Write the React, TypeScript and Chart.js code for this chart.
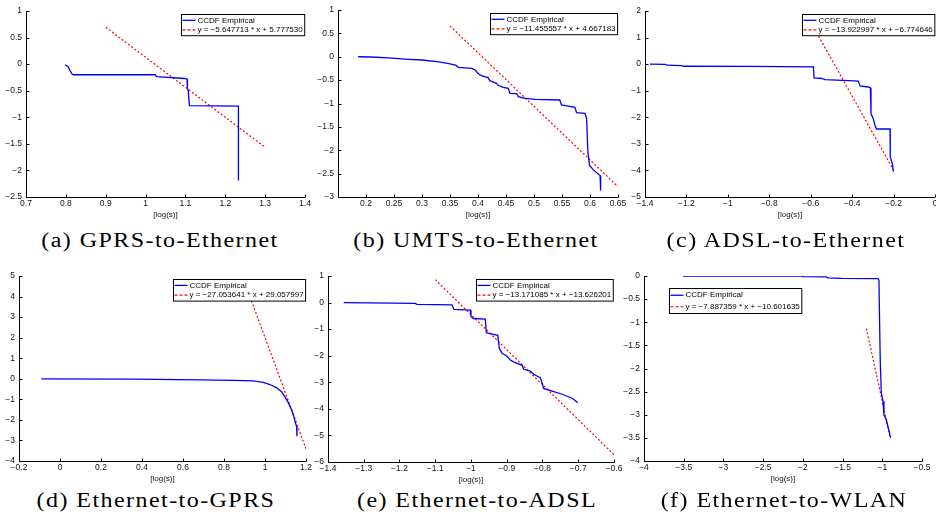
import React, { useEffect, useRef } from 'react';
import { Chart, registerables } from 'chart.js';

Chart.register(...registerables);

// ---------- data ----------
// (a) GPRS-to-Ethernet
const aCcdfX = [0.798, 0.802, 0.806, 0.810, 0.815, 0.819, 1.024, 1.028, 1.099, 1.104, 1.105, 1.107, 1.110, 1.233, 1.233];
const aCcdfY = [-0.01, -0.03, -0.05, -0.115, -0.18, -0.2, -0.2, -0.234, -0.27, -0.28, -0.46, -0.5, -0.78, -0.79, -2.19];
const aFit = [-5.647713, 5.77753];
const aFitX = [0.9, 1.3];
const aXTicks = [0.7, 0.8, 0.9, 1, 1.1, 1.2, 1.3, 1.4];
const aYTicks = [-2.5, -2, -1.5, -1, -0.5, 0, 0.5, 1];

// (b) UMTS-to-Ethernet
const bCcdfX = [0.186, 0.210, 0.246, 0.276, 0.300, 0.330, 0.350, 0.360, 0.365, 0.389, 0.395, 0.401, 0.407, 0.418, 0.421, 0.433, 0.436, 0.445, 0.454, 0.457, 0.469, 0.472, 0.484, 0.502, 0.546, 0.549, 0.573, 0.576, 0.591, 0.594, 0.596, 0.598, 0.599, 0.606, 0.618, 0.619];
const bCcdfY = [0, -0.005, -0.03, -0.055, -0.07, -0.11, -0.15, -0.18, -0.226, -0.248, -0.283, -0.369, -0.41, -0.447, -0.512, -0.569, -0.611, -0.654, -0.675, -0.782, -0.79, -0.854, -0.89, -0.911, -0.925, -1.032, -1.082, -1.196, -1.21, -1.32, -1.995, -2.21, -2.32, -2.42, -2.54, -2.86];
const bFit = [-11.455557, 4.667183];
const bFitX = [0.35, 0.65];
const bXMin = 0.15;
const bXTicks = [0.2, 0.25, 0.3, 0.35, 0.4, 0.45, 0.5, 0.55, 0.6, 0.65];
const bYTicks = [-3, -2.5, -2, -1.5, -1, -0.5, 0, 0.5, 1];

// (c) ADSL-to-Ethernet
const cCcdfX = [-1.376, -1.303, -1.295, -1.223, -1.215, -0.9, -0.587, -0.584, -0.547, -0.531, -0.418, -0.37, -0.362, -0.322, -0.312, -0.309, -0.298, -0.29, -0.282, -0.217, -0.216, -0.206, -0.201];
const cCcdfY = [0, -0.005, -0.04, -0.055, -0.08, -0.085, -0.1, -0.52, -0.54, -0.58, -0.62, -0.64, -0.82, -0.86, -0.89, -1.86, -2.05, -2.3, -2.44, -2.44, -3.49, -3.74, -4.05];
const cFit = [-13.922997, -6.774646];
const cFitX = [-0.6, -0.2];
const cXTicks = [-1.4, -1.2, -1, -0.8, -0.6, -0.4, -0.2, 0];
const cYTicks = [-5, -4, -3, -2, -1, 0, 1, 2];

// (d) Ethernet-to-GPRS
const dCcdfX = [-0.091, 0.357, 0.682, 0.845, 0.943, 0.992, 1.024, 1.057, 1.081, 1.097, 1.113, 1.13, 1.141, 1.149, 1.154, 1.156];
const dCcdfY = [0, -0.02, -0.05, -0.08, -0.1, -0.18, -0.28, -0.44, -0.63, -0.88, -1.15, -1.52, -1.85, -2.17, -2.33, -2.79];
const dFit = [-27.053641, 29.057997];
const dFitX = [0.9, 1.2];
const dXTicks = [-0.2, 0, 0.2, 0.4, 0.6, 0.8, 1, 1.2];
const dYTicks = [-4, -3, -2, -1, 0, 1, 2, 3, 4, 5];

// (e) Ethernet-to-ADSL
const eCcdfX = [-1.356, -1.221, -1.156, -1.151, -1.053, -1.048, -1.002, -1.0, -0.993, -0.96, -0.957, -0.953, -0.925, -0.921, -0.913, -0.9, -0.89, -0.88, -0.857, -0.853, -0.834, -0.825, -0.806, -0.8, -0.797, -0.773, -0.745, -0.717, -0.701];
const eCcdfY = [0, -0.02, -0.03, -0.07, -0.09, -0.26, -0.28, -0.53, -0.6, -0.62, -1.13, -1.15, -1.23, -1.72, -1.91, -2.01, -2.16, -2.24, -2.36, -2.5, -2.58, -2.7, -2.83, -3.07, -3.23, -3.33, -3.45, -3.6, -3.77];
const eFit = [-13.171085, -13.626201];
const eFitX = [-1.1, -0.6];
const eXTicks = [-1.4, -1.3, -1.2, -1.1, -1, -0.9, -0.8, -0.7, -0.6];
const eYTicks = [-6, -5, -4, -3, -2, -1, 0, 1];

// (f) Ethernet-to-WLAN
const fCcdfX = [-3.509, -2.019, -1.999, -1.705, -1.684, -1.516, -1.054, -1.042, -1.033, -1.025, -1.012, -0.991, -0.979, -0.949, -0.895];
const fCcdfY = [0, 0, -0.014, -0.02, -0.04, -0.05, -0.058, -0.09, -1.09, -1.88, -2.53, -2.71, -3.0, -3.11, -3.5];
const fFit = [-7.887359, -10.601635];
const fFitX = [-1.2, -0.9];
const fXTicks = [-4, -3.5, -3, -2.5, -2, -1.5, -1, -0.5];
const fYTicks = [-4, -3.5, -3, -2.5, -2, -1.5, -1, -0.5, 0];

const captions = [
  '(a) GPRS-to-Ethernet',
  '(b) UMTS-to-Ethernet',
  '(c) ADSL-to-Ethernet',
  '(d) Ethernet-to-GPRS',
  '(e) Ethernet-to-ADSL',
  '(f) Ethernet-to-WLAN',
];
const seriesLabel = 'CCDF Empirical';
const axisTitle = '[log(s)]';

// ---------- layout / style ----------
const SANS = '"Liberation Sans", Arial, Helvetica, sans-serif';
const SERIF = '"Liberation Serif", "Times New Roman", serif';

type Panel = {
  xs: number[]; ys: number[]; fit: number[]; fitX: number[];
  xMin?: number; xTicks: number[]; yTicks: number[];
  area: { l: number; t: number; r: number; b: number };
  legend: { pos: 'ne' | 'free'; dx?: number; dy?: number; rowH: number };
  caption: string; capX: number; capY: number;
};

const panels: Panel[] = [
  { xs: aCcdfX, ys: aCcdfY, fit: aFit, fitX: aFitX, xTicks: aXTicks, yTicks: aYTicks,
    area: { l: 26, t: 11, r: 305, b: 197 }, legend: { pos: 'ne', rowH: 9.6 }, caption: captions[0], capX: 160, capY: 230 },
  { xs: bCcdfX, ys: bCcdfY, fit: bFit, fitX: bFitX, xMin: bXMin, xTicks: bXTicks, yTicks: bYTicks,
    area: { l: 338, t: 10, r: 618, b: 197 }, legend: { pos: 'ne', rowH: 9.6 }, caption: captions[1], capX: 476, capY: 230 },
  { xs: cCcdfX, ys: cCcdfY, fit: cFit, fitX: cFitX, xTicks: cXTicks, yTicks: cYTicks,
    area: { l: 645, t: 11, r: 935, b: 197 }, legend: { pos: 'ne', rowH: 9.6 }, caption: captions[2], capX: 786, capY: 230 },
  { xs: dCcdfX, ys: dCcdfY, fit: dFit, fitX: dFitX, xTicks: dXTicks, yTicks: dYTicks,
    area: { l: 19, t: 276, r: 306, b: 461 }, legend: { pos: 'ne', rowH: 9.8 }, caption: captions[3], capX: 156, capY: 490 },
  { xs: eCcdfX, ys: eCcdfY, fit: eFit, fitX: eFitX, xTicks: eXTicks, yTicks: eYTicks,
    area: { l: 328, t: 276, r: 614, b: 462 }, legend: { pos: 'ne', rowH: 9.8 }, caption: captions[4], capX: 477, capY: 490 },
  { xs: fCcdfX, ys: fCcdfY, fit: fFit, fitX: fFitX, xTicks: fXTicks, yTicks: fYTicks,
    area: { l: 644, t: 276, r: 922, b: 461 }, legend: { pos: 'free', dx: 25, dy: 12, rowH: 11.5 }, caption: captions[5], capX: 784, capY: 490 },
];

const PAD_L = 30, PAD_T = 10, PAD_R = 10, PAD_B = 26;

function fmtTick(v: number): string {
  const s = String(Math.round(v * 1000) / 1000);
  return s.replace('-', '\u2212');
}
function fmtCoef(v: number): string {
  return v.toFixed(6).replace('-', '\u2212');
}

function PanelChart({ p }: { p: Panel }) {
  const ref = useRef<HTMLCanvasElement>(null);
  const w = p.area.r - p.area.l + PAD_L + PAD_R;
  const h = p.area.b - p.area.t + PAD_T + PAD_B;

  useEffect(() => {
    if (!ref.current) return;
    const [m, c] = p.fit;
    const overlay = {
      id: 'matlabAxes',
      afterDatasetsDraw(chart: any) {
        const { ctx, chartArea } = chart;
        const { left, right, top, bottom } = chartArea;
        const xs = chart.scales.x, ys = chart.scales.y;
        const L = Math.round(left) + 0.5, B = Math.round(bottom) + 0.5;
        ctx.save();
        ctx.strokeStyle = '#000';
        ctx.lineWidth = 1;
        ctx.setLineDash([]);
        ctx.beginPath();
        ctx.moveTo(L, top);
        ctx.lineTo(L, B);
        ctx.lineTo(right, B);
        xs.ticks.forEach((t: any) => {
          const px = Math.round(xs.getPixelForValue(t.value)) + 0.5;
          ctx.moveTo(px, B);
          ctx.lineTo(px, B - 3);
        });
        ys.ticks.forEach((t: any) => {
          const py = Math.round(ys.getPixelForValue(t.value)) + 0.5;
          ctx.moveTo(L, py);
          ctx.lineTo(L + 3, py);
        });
        ctx.stroke();

        // inset legend
        ctx.font = `8px ${SANS}`;
        const dsets = chart.data.datasets;
        const tw = Math.max(...dsets.map((d: any) => ctx.measureText(d.label).width));
        const sampleW = 13, gap = 2, padL = 1, padR = 2;
        const rowH = p.legend.rowH;
        const bw = padL + sampleW + gap + tw + padR;
        const bh = rowH * 2 + 2;
        let bx: number, by: number;
        if (p.legend.pos === 'ne') {
          bx = right - 1 - bw;
          by = top + 2.5;
        } else {
          bx = left + (p.legend.dx || 0);
          by = top + (p.legend.dy || 0);
        }
        bx = Math.round(bx) + 0.5;
        by = Math.round(by) + 0.5;
        ctx.fillStyle = '#fff';
        ctx.fillRect(bx, by, bw, bh);
        ctx.strokeStyle = '#000';
        ctx.lineWidth = 1;
        ctx.strokeRect(bx, by, bw, bh);
        dsets.forEach((d: any, i: number) => {
          const cy = by + 1 + rowH * (i + 0.5);
          ctx.save();
          ctx.strokeStyle = d.borderColor;
          ctx.lineWidth = d.borderWidth;
          ctx.setLineDash(i === 0 ? [] : [3, 2]);
          ctx.beginPath();
          ctx.moveTo(bx + padL, cy);
          ctx.lineTo(bx + padL + sampleW, cy);
          ctx.stroke();
          ctx.restore();
          ctx.fillStyle = '#000';
          ctx.textBaseline = 'middle';
          ctx.textAlign = 'left';
          ctx.fillText(d.label, bx + padL + sampleW + gap, cy);
        });
        ctx.restore();
      },
    };

    const tickFont = { family: SANS, size: 8.5 };
    const chart = new Chart(ref.current, {
      type: 'scatter',
      data: {
        datasets: [
          {
            label: seriesLabel,
            data: p.xs.map((x, i) => ({ x, y: p.ys[i] })),
            showLine: true,
            borderColor: '#0000ff',
            backgroundColor: '#0000ff',
            borderWidth: 1.3,
            pointRadius: 0,
            tension: 0,
          },
          {
            label: `y = ${fmtCoef(m)} * x + ${fmtCoef(c)}`,
            data: p.fitX.map((x) => ({ x, y: m * x + c })),
            showLine: true,
            borderColor: '#ff0000',
            backgroundColor: '#ff0000',
            borderDash: [2, 2],
            borderWidth: 1.2,
            pointRadius: 0,
          },
        ],
      },
      options: {
        responsive: false,
        animation: false,
        maintainAspectRatio: false,
        devicePixelRatio: 1,
        layout: { padding: { left: 0, top: PAD_T, right: PAD_R, bottom: 0 } },
        events: [],
        plugins: { legend: { display: false }, tooltip: { enabled: false } },
        scales: {
          x: {
            type: 'linear',
            min: p.xMin !== undefined ? p.xMin : Math.min(...p.xTicks),
            max: Math.max(...p.xTicks),
            grid: { display: false, drawTicks: false, tickLength: 0 },
            border: { display: false },
            ticks: {
              font: tickFont, color: '#111', padding: 2, maxRotation: 0, autoSkip: false,
              callback: (v: any) => fmtTick(Number(v)),
            },
            title: { display: true, text: axisTitle, font: { family: SANS, size: 8 }, color: '#111', padding: { top: 0, bottom: 3.5 } },
            afterBuildTicks: (s: any) => { s.ticks = p.xTicks.map((v) => ({ value: v })); },
            afterFit: (s: any) => { s.height = PAD_B; s.paddingLeft = 0; s.paddingRight = 0; },
          },
          y: {
            type: 'linear',
            min: Math.min(...p.yTicks),
            max: Math.max(...p.yTicks),
            grid: { display: false, drawTicks: false, tickLength: 0 },
            border: { display: false },
            ticks: {
              font: tickFont, color: '#111', padding: 4, autoSkip: false,
              callback: (v: any) => fmtTick(Number(v)),
            },
            afterBuildTicks: (s: any) => { s.ticks = p.yTicks.map((v) => ({ value: v })); },
            afterFit: (s: any) => { s.width = PAD_L; s.paddingTop = 0; s.paddingBottom = 0; },
          },
        },
      } as any,
      plugins: [overlay],
    });
    return () => chart.destroy();
  }, []);

  return (
    <canvas
      ref={ref}
      width={w}
      height={h}
      style={{ position: 'absolute', left: p.area.l - PAD_L, top: p.area.t - PAD_T, width: w, height: h }}
    />
  );
}

export default function App() {
  return (
    <div style={{ position: 'fixed', left: 0, top: 0, width: 936, height: 523, overflow: 'hidden', background: '#fff' }}>
      {panels.map((p, i) => (
        <PanelChart key={i} p={p} />
      ))}
      {panels.map((p, i) => (
        <div
          key={'c' + i}
          style={{
            position: 'absolute',
            left: p.capX - 160,
            top: p.capY,
            width: 320,
            textAlign: 'center',
            fontFamily: SERIF,
            fontSize: 20,
            fontWeight: 400,
            letterSpacing: '1.2px',
            lineHeight: '20px',
            color: '#000',
            whiteSpace: 'nowrap',
            transform: 'scaleX(1.2)',
            transformOrigin: 'center',
          }}
        >
          {p.caption}
        </div>
      ))}
    </div>
  );
}
